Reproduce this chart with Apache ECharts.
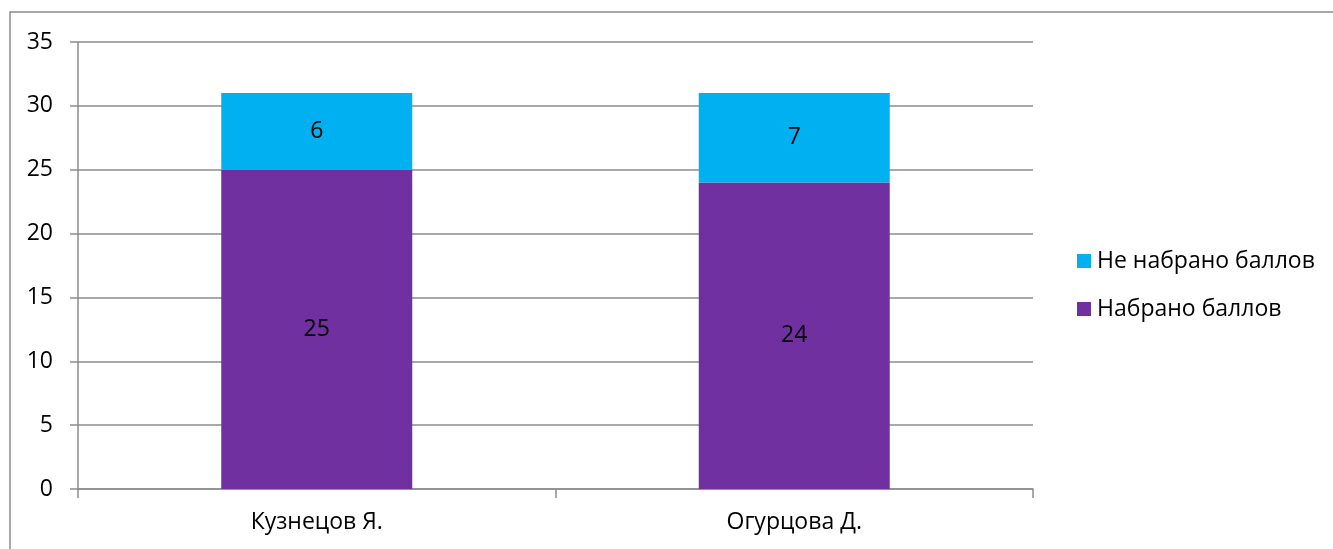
<!DOCTYPE html>
<html>
<head>
<meta charset="utf-8">
<script src="https://cdn.jsdelivr.net/npm/echarts@6/dist/echarts.min.js"></script>
<style>
  html, body { margin: 0; padding: 0; background: #fff; }
  #main { width: 1333px; height: 549px; }
</style>
</head>
<body>
<div id="main"></div>
<script>
  // data
  var categories = ['Кузнецов Я.', 'Огурцова Д.'];
  var scored = [25, 24];
  var missed = [6, 7];
  var seriesNames = ['Набрано баллов', 'Не набрано баллов'];

  var font = "'Open Sans', 'Noto Sans', sans-serif";
  var fs = 23;
  var gridColor = '#8c8c8c';

  var myChart = echarts.init(document.getElementById('main'));
  myChart.setOption({
    animation: false,
    textStyle: { fontFamily: font },
    graphic: [{
      type: 'rect',
      shape: { x: 10, y: 12, width: 1400, height: 600 },
      style: { fill: 'none', stroke: gridColor, lineWidth: 1.5 },
      silent: true
    }],
    grid: { left: 78, right: 300, top: 42, bottom: 60 },
    legend: {
      orient: 'vertical',
      left: 1077,
      top: 249,
      padding: 0,
      itemWidth: 14,
      itemHeight: 14,
      itemGap: 24,
      icon: 'rect',
      data: [seriesNames[1], seriesNames[0]],
      textStyle: { fontFamily: font, fontSize: fs, lineHeight: 24, color: '#000', padding: [0, 0, 0, 1] }
    },
    xAxis: {
      type: 'category',
      data: categories,
      axisLine: { lineStyle: { color: gridColor, width: 1.5 } },
      axisTick: { show: true, length: 9, lineStyle: { color: gridColor, width: 1.5 } },
      axisLabel: { color: '#000', fontSize: fs, margin: 22, fontFamily: font }
    },
    yAxis: {
      type: 'value',
      min: 0,
      max: 35,
      interval: 5,
      axisLine: { show: true, lineStyle: { color: gridColor, width: 1.5 } },
      axisTick: { show: true, length: 8, lineStyle: { color: gridColor, width: 1.5 } },
      splitLine: { lineStyle: { color: gridColor, width: 1.5 } },
      axisLabel: { color: '#000', fontSize: fs, margin: 25, fontFamily: font }
    },
    series: [{
      name: seriesNames[0],
      type: 'bar',
      stack: 'total',
      barWidth: '40%',
      data: scored,
      itemStyle: { color: '#7030A0' },
      label: { show: true, position: 'inside', color: '#000', fontSize: fs, fontFamily: font }
    }, {
      name: seriesNames[1],
      type: 'bar',
      stack: 'total',
      barWidth: '40%',
      data: missed,
      itemStyle: { color: '#00B0F0' },
      label: { show: true, position: 'inside', color: '#000', fontSize: fs, fontFamily: font }
    }]
  });
</script>
</body>
</html>
